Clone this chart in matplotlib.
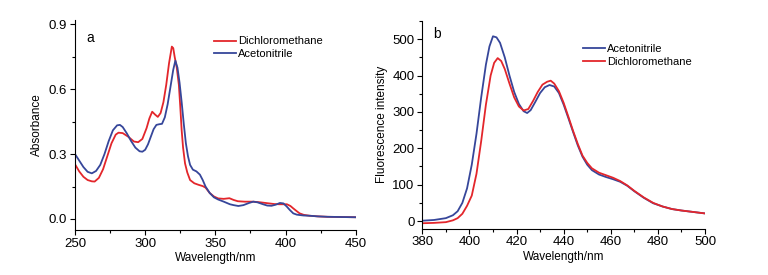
import matplotlib
matplotlib.use("Agg")
import matplotlib.pyplot as plt
from matplotlib.ticker import MultipleLocator, FormatStrFormatter

plt.rcParams['font.family'] = ['Liberation Sans', 'DejaVu Sans']

# ---- Panel a: absorbance ----
wl_a_dcm = [250, 253, 256, 259, 262, 264, 267, 270, 273, 276, 279, 281, 284, 288, 292, 295,
            298, 301, 303, 305, 307, 309, 311, 313, 315, 317, 319, 320, 321, 322.5, 324, 325,
            326, 327, 328.4, 330, 332, 335, 338, 341, 343, 346, 349, 352, 356, 360, 363, 366,
            371, 377, 382, 387, 392, 396, 401, 403.5, 405.5, 408, 410, 413, 417, 423, 430, 440, 450]
abs_dcm = [0.253, 0.220, 0.195, 0.180, 0.174, 0.173, 0.190, 0.230, 0.290, 0.350, 0.390, 0.399,
           0.397, 0.380, 0.358, 0.355, 0.370, 0.420, 0.465, 0.496, 0.483, 0.472, 0.490, 0.540,
           0.620, 0.720, 0.797, 0.790, 0.750, 0.700, 0.620, 0.520, 0.410, 0.330, 0.257, 0.215,
           0.180, 0.165, 0.158, 0.152, 0.145, 0.120, 0.104, 0.095, 0.093, 0.096, 0.088, 0.082,
           0.080, 0.080, 0.077, 0.073, 0.069, 0.068, 0.068, 0.060, 0.049, 0.036, 0.026, 0.019,
           0.015, 0.012, 0.010, 0.009, 0.008]

wl_a_acn = [250, 253, 256, 259, 262, 265, 268, 271, 274, 277, 280, 282, 284, 287, 290, 293,
            296, 298, 300, 302, 304, 306, 308, 310, 312, 314, 316, 318, 320, 321.5, 323, 324.5,
            326, 327.5, 329, 330.5, 332, 334, 336.5, 339, 341, 343, 346, 349, 352, 356, 360.4,
            363, 366.4, 370, 374, 377, 380, 384, 387, 390, 393, 396, 398.5, 400.8, 403, 405.5,
            408, 410.3, 413, 417, 423, 430, 440, 450]
abs_acn = [0.300, 0.270, 0.240, 0.218, 0.211, 0.222, 0.250, 0.300, 0.360, 0.410, 0.433, 0.435,
           0.425, 0.395, 0.360, 0.330, 0.313, 0.311, 0.320, 0.345, 0.380, 0.415, 0.435, 0.438,
           0.440, 0.470, 0.530, 0.610, 0.690, 0.732, 0.700, 0.630, 0.540, 0.440, 0.350, 0.290,
           0.250, 0.228, 0.220, 0.205, 0.180, 0.150, 0.120, 0.100, 0.090, 0.080, 0.068, 0.064,
           0.060, 0.064, 0.074, 0.080, 0.077, 0.068, 0.062, 0.061, 0.066, 0.074, 0.072, 0.058,
           0.042, 0.026, 0.020, 0.018, 0.016, 0.015, 0.012, 0.010, 0.009, 0.008]

# ---- Panel b: fluorescence ----
wl_b_acn = [380, 385, 390, 393, 395, 397, 399, 401, 403, 405, 407, 408.5, 410, 411.5, 413, 415,
            417, 419, 421, 423, 424.5, 426, 428, 430, 432, 434, 436, 438, 440, 442, 444, 446,
            448, 450, 452, 455, 458, 461, 464, 467, 470, 474, 478, 482, 486, 490, 495, 500]
fl_acn = [1, 3, 8, 16, 27, 50, 90, 155, 240, 340, 430, 480, 508, 505, 490, 450, 400, 355, 322,
          302, 297, 305, 328, 352, 368, 374, 370, 352, 320, 283, 245, 208, 177, 155, 140, 128,
          121, 115, 108, 97, 82, 64, 49, 40, 33, 29, 25, 21]

wl_b_dcm = [380, 385, 390, 393, 395, 397, 399, 401, 403, 405, 407, 409, 410.5, 412, 413.5, 415,
            417, 419, 421, 423, 425, 427, 429, 431, 433, 434.5, 436, 438, 440, 442, 444, 446,
            448, 450, 452, 455, 458, 461, 464, 467, 470, 474, 478, 482, 486, 490, 495, 500]
fl_dcm = [-6, -5, -3, 2, 8, 20, 42, 70, 130, 220, 320, 400, 435, 448, 440, 418, 378, 340, 315,
          304, 308, 330, 355, 375, 383, 386, 378, 357, 325, 287, 248, 212, 180, 160, 145, 133,
          126, 119, 110, 98, 83, 65, 50, 40, 33, 29, 25, 21]

RED = '#e3262b'
BLUE = '#36469a'

fig = plt.figure(figsize=(7.68, 2.75), dpi=100)
axa = fig.add_axes([75/768, 45/275, 280.7/768, 210/275])
axb = fig.add_axes([422.3/768, 46.3/275, 282.7/768, 207.7/275])

lw = 1.3
axa.plot(wl_a_dcm, abs_dcm, color=RED, lw=lw, label='Dichloromethane')
axa.plot(wl_a_acn, abs_acn, color=BLUE, lw=lw, label='Acetonitrile')
axb.plot(wl_b_acn, fl_acn, color=BLUE, lw=lw, label='Acetonitrile')
axb.plot(wl_b_dcm, fl_dcm, color=RED, lw=lw, label='Dichloromethane')

axa.set_xlim(250, 450)
axa.set_ylim(-0.051, 0.92)
axa.xaxis.set_major_locator(MultipleLocator(50))
axa.xaxis.set_minor_locator(MultipleLocator(25))
axa.yaxis.set_major_locator(MultipleLocator(0.3))
axa.yaxis.set_minor_locator(MultipleLocator(0.15))
axa.yaxis.set_major_formatter(FormatStrFormatter('%.1f'))
axa.set_xlabel('Wavelength/nm', fontsize=8.5, labelpad=2)
axa.set_ylabel('Absorbance', fontsize=8.5, labelpad=4)
axa.text(0.04, 0.95, 'a', transform=axa.transAxes, fontsize=10, va='top')

axb.set_xlim(380, 500)
axb.set_ylim(-21, 550)
axb.xaxis.set_major_locator(MultipleLocator(20))
axb.xaxis.set_minor_locator(MultipleLocator(10))
axb.yaxis.set_major_locator(MultipleLocator(100))
axb.yaxis.set_minor_locator(MultipleLocator(50))
axb.set_xlabel('Wavelength/nm', fontsize=8.5, labelpad=2)
axb.set_ylabel('Fluorescence intensity', fontsize=8.5, labelpad=3)
axb.text(0.04, 0.97, 'b', transform=axb.transAxes, fontsize=10, va='top')

for ax in (axa, axb):
    for s in ('top', 'right'):
        ax.spines[s].set_visible(False)
    for s in ('left', 'bottom'):
        ax.spines[s].set_linewidth(0.8)
    ax.tick_params(which='major', direction='out', length=3.5, width=0.8, labelsize=9.5, pad=2)
    ax.tick_params(which='minor', direction='out', length=2, width=0.8)

leg_kw = dict(frameon=False, fontsize=8, handlelength=2.0, handletextpad=0.2,
              labelspacing=0.25, borderpad=0, borderaxespad=0, loc='upper left')
axa.legend(bbox_to_anchor=(214/768, 1 - 36.5/275), bbox_transform=fig.transFigure, **leg_kw)
axb.legend(bbox_to_anchor=(583/768, 1 - 44/275), bbox_transform=fig.transFigure, **leg_kw)

fig.savefig('out.png', dpi=100)
